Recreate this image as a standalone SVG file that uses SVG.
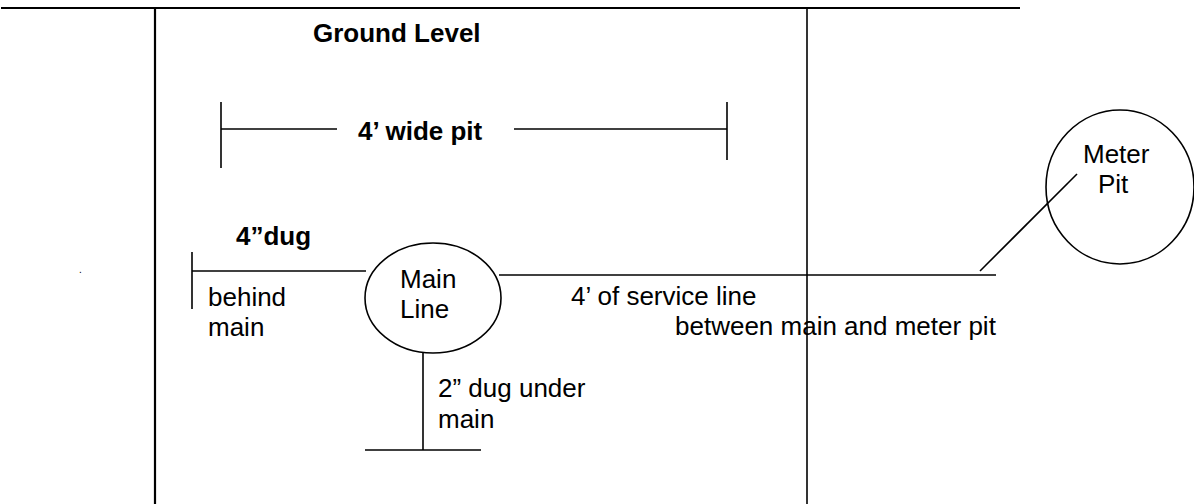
<svg xmlns="http://www.w3.org/2000/svg" width="1194" height="504" viewBox="0 0 1194 504">
<style>
.ln{stroke:#000;stroke-width:1.6;fill:none}
.bd{stroke:#000;stroke-width:2.2;fill:none}
.t{font-family:"Liberation Sans",Arial,sans-serif;font-size:26px;fill:#000}
.b{font-weight:bold}
</style>
<rect width="1194" height="504" fill="#fff"/>
<g id="frame">
<line class="bd" x1="1" y1="8" x2="1020" y2="8"/>
<line class="bd" x1="155" y1="8" x2="155" y2="504"/>
<line class="ln" x1="807" y1="8" x2="807" y2="504"/>
</g>
<g id="ground-label"><text class="t b" x="313" y="42">Ground Level</text></g>
<g id="pit-width">
<line class="ln" x1="221" y1="102" x2="221" y2="168"/>
<line class="ln" x1="221" y1="129" x2="337" y2="129"/>
<text class="t b" x="358" y="140">4’ wide pit</text>
<line class="ln" x1="514" y1="129" x2="727" y2="129"/>
<line class="ln" x1="727" y1="102" x2="727" y2="160"/>
</g>
<g id="dug-behind">
<text class="t b" x="236" y="245">4”dug</text>
<line class="ln" x1="192" y1="252" x2="192" y2="309"/>
<line class="ln" x1="192" y1="271" x2="366" y2="271"/>
<text class="t" x="208" y="306">behind</text>
<text class="t" x="208" y="336">main</text>
</g>
<g id="main-line">
<ellipse class="ln" cx="433" cy="298" rx="68" ry="55"/>
<text class="t" x="400" y="288">Main</text>
<text class="t" x="400" y="318">Line</text>
</g>
<g id="dug-under">
<line class="ln" x1="423" y1="353" x2="423" y2="450"/>
<line class="ln" x1="365" y1="450" x2="481" y2="450"/>
<text class="t" x="438" y="397">2” dug under</text>
<text class="t" x="438" y="428">main</text>
</g>
<g id="connectors">
<line class="ln" x1="499" y1="275" x2="996" y2="275"/>
<line class="ln" x1="980" y1="271" x2="1077" y2="174"/>
</g>
<g id="service-label">
<text class="t" x="571" y="305">4’ of service line</text>
<text class="t" x="675" y="335">between main and meter pit</text>
</g>
<g id="meter-pit">
<ellipse class="ln" cx="1120" cy="187" rx="74" ry="77"/>
<text class="t" x="1083" y="163">Meter</text>
<text class="t" x="1098" y="193">Pit</text>
</g>
<text class="t" x="79" y="273" style="font-size:10px">.</text>
</svg>
